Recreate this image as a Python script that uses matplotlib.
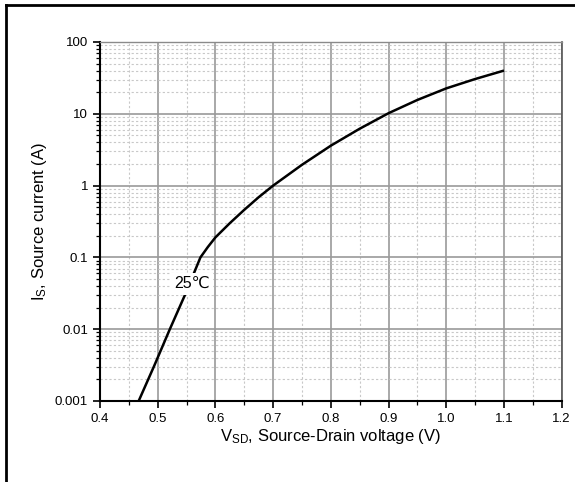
import matplotlib
matplotlib.use("Agg")
import matplotlib.pyplot as plt
from matplotlib.ticker import LogLocator, MultipleLocator, FixedLocator, NullFormatter
from matplotlib.lines import Line2D

plt.rcParams["font.family"] = ["Liberation Sans", "DejaVu Sans"]
plt.rcParams["mathtext.fontset"] = "custom"
plt.rcParams["mathtext.rm"] = "Liberation Sans"
plt.rcParams["mathtext.it"] = "Liberation Sans:italic"

vsd = [0.467, 0.494, 0.521, 0.548, 0.574, 0.587, 0.60, 0.625, 0.65, 0.675, 0.70, 0.75, 0.80, 0.85,
       0.90, 0.95, 1.00, 1.05, 1.10]
i_s = [0.001, 0.0031, 0.01, 0.031, 0.1, 0.14, 0.19, 0.30, 0.46, 0.69, 1.0, 1.95, 3.6, 6.2,
       10.2, 15.6, 22.6, 30.5, 40.0]

x_ticks = [0.4, 0.5, 0.6, 0.7, 0.8, 0.9, 1.0, 1.1, 1.2]
x_labels = ["0.4", "0.5", "0.6", "0.7", "0.8", "0.9", "1.0", "1.1", "1.2"]
y_ticks = [0.001, 0.01, 0.1, 1, 10, 100]
y_labels = ["0.001", "0.01", "0.1", "1", "10", "100"]

fig = plt.figure(figsize=(5.75, 4.82), dpi=100)
ax = fig.add_axes([100 / 575, 1 - 401 / 482, (561.7 - 100) / 575, (401 - 42) / 482])

ax.set_yscale("log")
ax.set_xlim(0.4, 1.2)
ax.set_ylim(0.001, 100)

ax.xaxis.set_major_locator(FixedLocator(x_ticks))
ax.set_xticklabels(x_labels)
ax.xaxis.set_minor_locator(MultipleLocator(0.05))
ax.yaxis.set_major_locator(FixedLocator(y_ticks))
ax.set_yticklabels(y_labels)
ax.yaxis.set_minor_locator(LogLocator(base=10, subs=range(2, 10), numticks=20))
ax.yaxis.set_minor_formatter(NullFormatter())

ax.grid(which="major", color="#9a9a9a", lw=1.2, ls="-")
ax.grid(which="minor", color="#c8c8c8", lw=0.8, ls=(0, (2, 2)))
ax.set_axisbelow(True)

ax.tick_params(which="major", direction="out", length=5, width=1.2, labelsize=9.5, color="black")
ax.tick_params(which="minor", direction="out", length=3, width=0.9)
ax.tick_params(axis="x", pad=4)

for side in ["left", "bottom"]:
    ax.spines[side].set_color("black")
    ax.spines[side].set_linewidth(1.5)
ax.spines["top"].set_color("#8a8a8a")
ax.spines["right"].set_color("#555555")
ax.spines["top"].set_linewidth(1.0)
ax.spines["right"].set_linewidth(1.2)

ax.plot(vsd, i_s, color="black", lw=1.8, solid_capstyle="butt", solid_joinstyle="round")

ax.text(0.559, 0.043, "25℃", fontsize=11.5, ha="center", va="center",
        family=["Liberation Sans", "DejaVu Sans"],
        bbox=dict(facecolor="white", edgecolor="none", pad=2.5))

ax.set_xlabel(r"V$_{\rm SD}$, Source-Drain voltage (V)", fontsize=12, labelpad=1)
ax.set_ylabel(r"I$_{\rm S}$, Source current (A)", fontsize=12, labelpad=4)

# outer frame (left and top edges only)
fig.add_artist(Line2D([6 / 575, 6 / 575], [0, 1 - 5 / 482], transform=fig.transFigure, color="black", lw=2))
fig.add_artist(Line2D([6 / 575, 1], [1 - 5 / 482, 1 - 5 / 482], transform=fig.transFigure, color="black", lw=2))

fig.savefig("out.png", dpi=100)
